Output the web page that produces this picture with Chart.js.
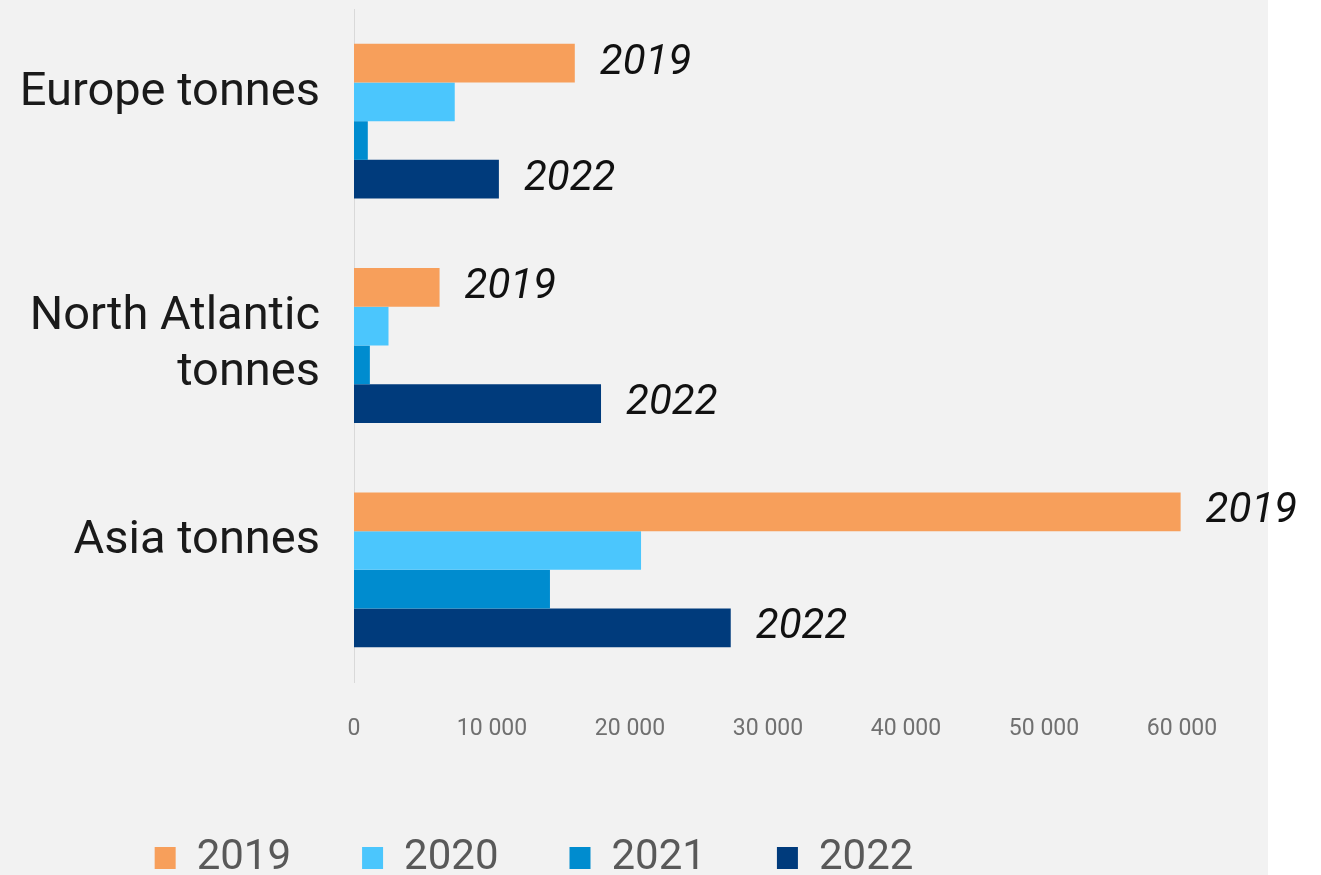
<!DOCTYPE html>
<html>
<head>
<meta charset="utf-8">
<script src="https://cdn.jsdelivr.net/npm/chart.js@4.4.0/dist/chart.umd.min.js"></script>
<style>
  html, body { margin: 0; padding: 0; background: #fff; }
  #wrap { width: 1321px; height: 875px; }
</style>
</head>
<body>
<div id="wrap"><canvas id="bar-chart" width="1321" height="875"></canvas></div>
<script>
// second empty line keeps single-line labels sitting high, as in the original
var categories = [['Europe tonnes', ''], ['North Atlantic', 'tonnes'], ['Asia tonnes', '']];
var years = ['2019', '2020', '2021', '2022'];
var values2019 = [16000, 6200, 59900];
var values2020 = [7300, 2500, 20800];
var values2021 = [1000, 1150, 14200];
var values2022 = [10500, 17900, 27300];
var xTicks = [0, 10000, 20000, 30000, 40000, 50000, 60000];
var colors = ['#f79f5b', '#4bc6fd', '#008ccf', '#003b7c'];

// grey panel behind the chart (right strip stays white)
var panel = {
    id: 'panel',
    beforeDraw: function(chart) {
        var ctx = chart.ctx;
        ctx.save();
        ctx.fillStyle = '#f2f2f2';
        ctx.fillRect(0, 0, 1268, chart.height);
        ctx.restore();
    }
};

// legend sits a bit left of centre in the original
var legendShift = {
    id: 'legendShift',
    afterLayout: function(chart) {
        chart.legend.left -= 57;
        chart.legend.right -= 57;
    }
};

// italic year labels at the end of the 2019 and 2022 bars
var endLabels = {
    id: 'endLabels',
    afterDatasetsDraw: function(chart) {
        var ctx = chart.ctx;
        ctx.save();
        ctx.font = 'italic 42px Roboto';
        ctx.fillStyle = '#111';
        ctx.textBaseline = 'middle';
        ctx.textAlign = 'left';
        [0, 3].forEach(function(di) {
            var meta = chart.getDatasetMeta(di);
            meta.data.forEach(function(bar) {
                ctx.fillText(chart.data.datasets[di].label, bar.x + 25, bar.y);
            });
        });
        ctx.restore();
    }
};

var series = [values2019, values2020, values2021, values2022];

new Chart(document.getElementById('bar-chart'), {
    type: 'bar',
    data: {
        labels: categories,
        datasets: years.map(function(y, i) {
            return {
                label: y,
                data: series[i],
                backgroundColor: colors[i],
                categoryPercentage: 0.69,
                barPercentage: 1.0
            };
        })
    },
    options: {
        indexAxis: 'y',
        responsive: false,
        animation: false,
        layout: { padding: { top: 9, right: 139, left: 0, bottom: -14 } },
        plugins: {
            legend: {
                position: 'bottom',
                labels: {
                    boxWidth: 21,
                    boxHeight: 22,
                    padding: 71,
                    color: '#595959',
                    font: { family: 'Roboto', size: 42 }
                }
            },
            tooltip: { enabled: false }
        },
        scales: {
            x: {
                min: 0,
                max: 60000,
                afterBuildTicks: function(scale) {
                    scale.ticks = xTicks.map(function(v) { return { value: v }; });
                },
                afterFit: function(scale) { scale.height = 84; },
                grid: { display: false, drawTicks: false },
                border: { display: false },
                ticks: {
                    padding: 33,
                    color: '#707070',
                    font: { family: 'Roboto', size: 23 },
                    callback: function(v) {
                        return v === 0 ? '0' : (v / 1000) + ' 000';
                    }
                }
            },
            y: {
                afterFit: function(scale) {
                    scale.width = 354;
                    scale.paddingTop = 0;
                    scale.paddingBottom = 0;
                },
                grid: { display: false, drawTicks: false },
                border: { display: true, color: '#d9d9d9', width: 1 },
                ticks: {
                    padding: 34,
                    color: '#1a1a1a',
                    font: { family: 'Roboto', size: 47 }
                }
            }
        }
    },
    plugins: [panel, legendShift, endLabels]
});
</script>
</body>
</html>
